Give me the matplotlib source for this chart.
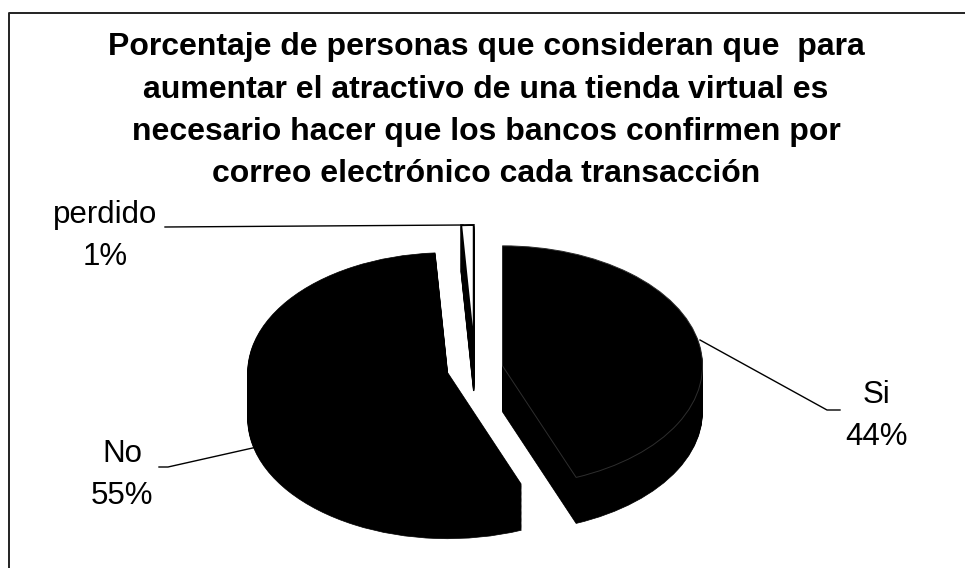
import numpy as np
import matplotlib
matplotlib.use('Agg')
import matplotlib.pyplot as plt
from matplotlib.lines import Line2D

plt.rcParams['font.family'] = ['Liberation Sans', 'DejaVu Sans']

# datos
labels = ['Si', 'No', 'perdido']
values = [44, 55, 1]
colors = ['black', 'black', 'white']
explode = [0.14, 0.14, 0.2]

title_lines = [
    'Porcentaje de personas que consideran que  para',
    'aumentar el atractivo de una tienda virtual es',
    'necesario hacer que los bancos confirmen por',
    'correo electrónico cada transacción',
]

W, H = 965, 568
RX, RY, DEPTH = 200, 120, 46     # px: radio horizontal, vertical, grosor
OX, OY = 475, 369                # centro de la cara superior (px)


def fig_xy(x, y):
    # px (origen arriba-izq) -> fracción de figura
    return x / W, 1 - y / H


fig = plt.figure(figsize=(W / 100, H / 100), dpi=100)
ax = fig.add_axes([0, 0, 1, 1])

# pastel 3D: apilar capas desde abajo hacia la cara superior
layers = np.linspace(-DEPTH / RY, 0, 40)
for i, dz in enumerate(layers):
    wedges, _ = ax.pie(values, explode=explode, colors=colors, startangle=90,
                       counterclock=False, center=(0, dz))
    for w, c in zip(wedges, colors):
        if c == 'white':
            w.set_edgecolor('black')
            w.set_linewidth(1.0)
        else:
            w.set_edgecolor(c)
            w.set_linewidth(0.5)
    if i == len(layers) - 1:
        wedges[0].set_edgecolor('#2e2e2e')
        wedges[0].set_linewidth(0.7)
        wedges[2].set_linewidth(1.4)

ax.set_aspect('auto')
ax.set_xlim(-OX / RX, (W - OX) / RX)
ax.set_ylim(-(H - OY) / RY, OY / RY)
ax.axis('off')

# título
for k, line in enumerate(title_lines):
    fig.text(*fig_xy(486, 55 + 42.5 * k), line, ha='center', va='baseline',
             fontsize=23, fontweight='bold')

# etiquetas con porcentaje
total = sum(values)
label_pos = {'perdido': (105, 223), 'Si': (877, 403), 'No': (122, 462)}
for name, v in zip(labels, values):
    x, y = label_pos[name]
    fig.text(*fig_xy(x, y), name, ha='center', va='baseline', fontsize=22.5)
    fig.text(*fig_xy(x, y + 42), f'{v / total * 100:.0f}%', ha='center',
             va='baseline', fontsize=22.5)

# líneas guía
leaders = {
    'perdido': [(165, 227), (463, 225)],
    'Si': [(700, 340), (827, 410), (840, 410)],
    'No': [(257, 447), (168, 467), (159, 467)],
}
for pts in leaders.values():
    xs, ys = zip(*[fig_xy(px, py) for px, py in pts])
    fig.add_artist(Line2D(xs, ys, color='black', lw=1.0))

# marco (solo arriba e izquierda visibles)
bx, by = zip(*[fig_xy(9, H), fig_xy(9, 13), fig_xy(W, 13)])
fig.add_artist(Line2D(bx, by, color='#222222', lw=1.4))

fig.savefig('out.png', dpi=100, facecolor='white')
